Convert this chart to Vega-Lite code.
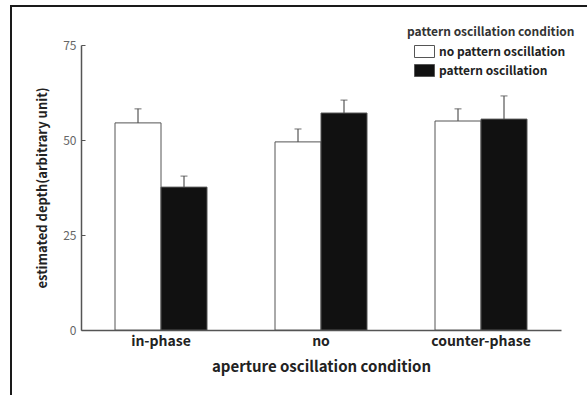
{
  "$schema": "https://vega.github.io/schema/vega-lite/v6.json",
  "autosize": {"type": "none"},
  "padding": {"left": 11, "top": 6, "right": 0, "bottom": 0},
  "width": 576,
  "height": 389,
  "background": "white",
  "config": {
    "view": {"stroke": "#1a1a1a", "strokeWidth": 2, "strokeDash": [576, 965, 389]},
    "font": "Noto Sans CJK JP"
  },
  "data": {
    "values": [
      {"aperture": "in-phase", "pattern": "no pattern oscillation", "value": 54.5, "upper": 58.2},
      {"aperture": "in-phase", "pattern": "pattern oscillation", "value": 37.6, "upper": 40.5},
      {"aperture": "no", "pattern": "no pattern oscillation", "value": 49.5, "upper": 52.9},
      {"aperture": "no", "pattern": "pattern oscillation", "value": 57.1, "upper": 60.5},
      {"aperture": "counter-phase", "pattern": "no pattern oscillation", "value": 55.0, "upper": 58.2},
      {"aperture": "counter-phase", "pattern": "pattern oscillation", "value": 55.5, "upper": 61.6}
    ]
  },
  "encoding": {
    "x": {
      "field": "aperture",
      "type": "nominal",
      "sort": ["in-phase", "no", "counter-phase"],
      "scale": {"range": [70, 550], "paddingInner": 0.425, "paddingOuter": 0.2125},
      "axis": {
        "title": "aperture oscillation condition",
        "orient": "bottom",
        "offset": -65,
        "labelAngle": 0,
        "ticks": false,
        "domainColor": "#555",
        "domainWidth": 1.5,
        "labelFont": "Noto Sans CJK JP",
        "labelFontSize": 14,
        "labelFontWeight": "bold",
        "labelColor": "#222",
        "labelPadding": 4,
        "titleFont": "Noto Sans CJK JP",
        "titleFontSize": 15,
        "titleFontWeight": "bold",
        "titleColor": "#222",
        "titlePadding": 11
      }
    },
    "xOffset": {
      "field": "pattern",
      "type": "nominal",
      "sort": ["no pattern oscillation", "pattern oscillation"],
      "scale": {"paddingInner": 0, "paddingOuter": 0}
    }
  },
  "layer": [
    {
      "mark": {"type": "rule", "color": "#555", "strokeWidth": 1.2},
      "encoding": {
        "y": {"field": "value", "type": "quantitative"},
        "y2": {"field": "upper"}
      }
    },
    {
      "mark": {"type": "tick", "color": "#555", "thickness": 1.2, "size": 7, "orient": "horizontal"},
      "encoding": {
        "y": {"field": "upper", "type": "quantitative"}
      }
    },
    {
      "mark": {"type": "bar", "stroke": "#555", "strokeWidth": 1},
      "encoding": {
        "y": {
          "field": "value",
          "type": "quantitative",
          "scale": {"domain": [0, 75], "range": [324, 39], "nice": false},
          "axis": {
            "title": "estimated depth(arbitrary unit)",
            "orient": "left",
            "offset": -70,
            "values": [0, 25, 50, 75],
            "grid": false,
            "tickSize": -4,
            "tickColor": "#555",
            "domainColor": "#555",
            "domainWidth": 1.5,
            "labelFont": "Noto Sans CJK JP",
            "labelFontSize": 12,
            "labelColor": "#666",
            "labelPadding": 9,
            "titleFont": "Noto Sans CJK JP",
            "titleFontSize": 13,
            "titleFontWeight": "bold",
            "titleColor": "#222",
            "titlePadding": 13
          }
        },
        "fill": {
          "field": "pattern",
          "type": "nominal",
          "sort": ["no pattern oscillation", "pattern oscillation"],
          "scale": {"range": ["#ffffff", "#111111"]},
          "legend": {
            "title": "pattern oscillation condition",
            "orient": "none",
            "legendX": 396,
            "legendY": 21,
            "titleFont": "Noto Sans CJK JP",
            "titleFontSize": 12,
            "titleFontWeight": "bold",
            "titleColor": "#333",
            "titlePadding": 2,
            "labelFont": "Noto Sans CJK JP",
            "labelFontSize": 12,
            "labelFontWeight": "bold",
            "labelColor": "#222",
            "labelOffset": 4,
            "symbolType": "M-1,-0.6H1V0.6H-1Z",
            "symbolSize": 400,
            "symbolStrokeColor": "#555",
            "symbolStrokeWidth": 1,
            "symbolOffset": 7,
            "rowPadding": -3
          }
        }
      }
    }
  ]
}
